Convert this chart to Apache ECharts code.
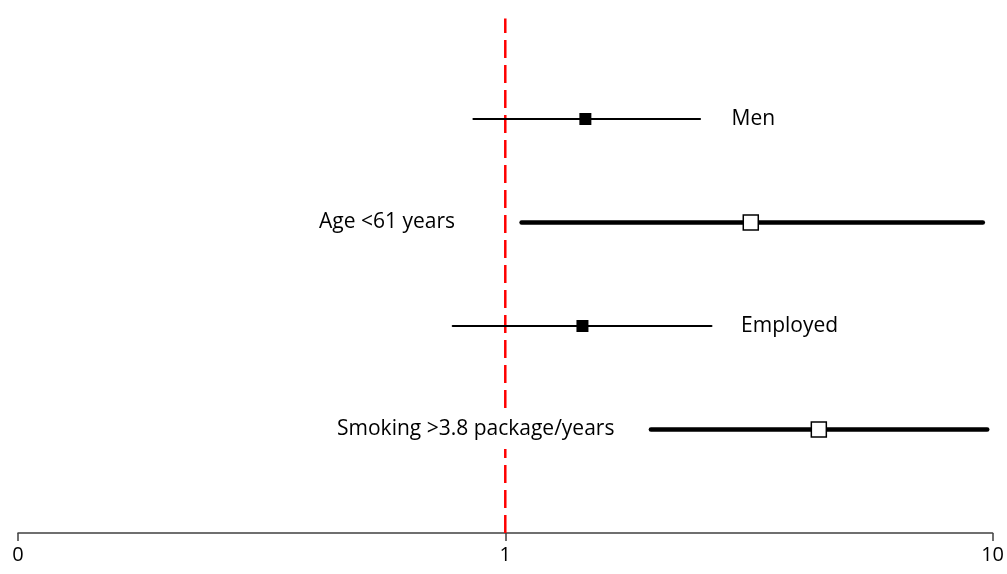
<!DOCTYPE html>
<html>
<head>
<meta charset="utf-8">
<script src="https://cdn.jsdelivr.net/npm/echarts@6/dist/echarts.min.js"></script>
<style>
  html, body { margin: 0; padding: 0; background: #fff; }
  #chart { width: 1007px; height: 574px; }
</style>
</head>
<body>
<div id="chart"></div>
<script>
// Odds ratios with 95% confidence intervals
const labels   = ['Men', 'Age <61 years', 'Employed', 'Smoking >3.8 package/years'];
const estimate = [1.46, 3.19, 1.44, 4.40];
const ciLow    = [0.86, 1.08, 0.78, 1.99];
const ciHigh   = [2.51, 9.55, 2.65, 9.75];
const rowPos   = [4, 3, 2, 1];
const tickLabels = { 0.1: '0', 1: '1', 10: '10' };

// Per-row drawing style
const bold      = [false, true, false, true];
const labelSide = ['right', 'left', 'right', 'left'];
const labelGap  = [27, 62, 25, 32];

const FONT = 'Open Sans';
const series = [];

// Reference line at OR = 1
series.push({
  type: 'line',
  data: [[1, 0], [1, 4.97]],
  symbol: 'none',
  silent: true,
  lineStyle: { color: '#ff0000', width: 2.5, type: [18, 7] },
  z: 1
});

labels.forEach((name, i) => {
  // Confidence interval
  series.push({
    type: 'line',
    data: [[ciLow[i], rowPos[i]], [ciHigh[i], rowPos[i]]],
    symbol: 'none',
    silent: true,
    lineStyle: { color: '#000', width: bold[i] ? 4.5 : 2, cap: 'round' },
    z: 2
  });
  // Point estimate
  series.push({
    type: 'scatter',
    data: [[estimate[i], rowPos[i]]],
    symbol: 'rect',
    symbolSize: bold[i] ? 15 : 12,
    itemStyle: bold[i]
      ? { color: '#fff', borderColor: '#000', borderWidth: 1.5, opacity: 1 }
      : { color: '#000', opacity: 1 },
    z: 6
  });
  // Row label in a white box, anchored to the interval end on its side
  const anchor = labelSide[i] === 'right' ? ciHigh[i] : ciLow[i];
  series.push({
    type: 'scatter',
    data: [[anchor, rowPos[i]]],
    symbolSize: 1,
    itemStyle: { opacity: 0 },
    silent: true,
    label: {
      show: true,
      position: labelSide[i],
      distance: labelGap[i],
      formatter: name,
      color: '#000',
      opacity: 1,
      fontFamily: FONT,
      fontSize: 21,
      backgroundColor: '#fff',
      padding: [9, 4]
    },
    z: 7
  });
});

const chart = echarts.init(document.getElementById('chart'));
chart.setOption({
  animation: false,
  grid: { left: 18, right: 14, top: 15.5, bottom: 41 },
  xAxis: {
    type: 'log',
    logBase: 10,
    min: 0.1,
    max: 10,
    axisLine: { lineStyle: { color: '#404040', width: 1.5 } },
    axisTick: { show: true, length: 8, lineStyle: { color: '#404040', width: 1.5 } },
    minorTick: { show: false },
    splitLine: { show: false },
    axisLabel: {
      color: '#000',
      fontFamily: FONT,
      fontSize: 20,
      margin: 12,
      formatter: v => tickLabels[+v.toPrecision(3)] ?? ''
    }
  },
  yAxis: {
    type: 'value',
    min: 0,
    max: 5,
    show: false
  },
  series: series
});
</script>
</body>
</html>
